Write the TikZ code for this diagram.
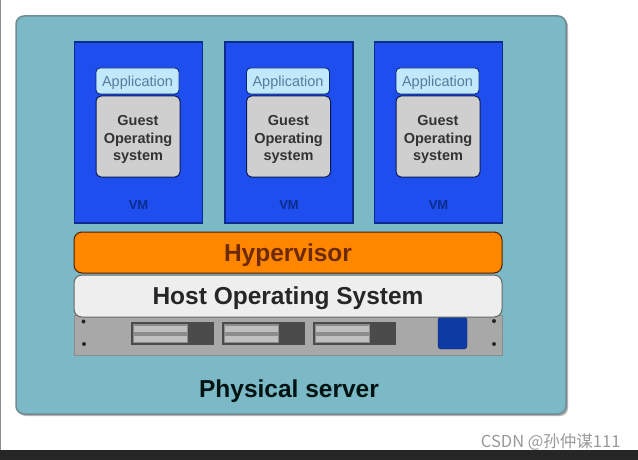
\documentclass[tikz,border=0pt]{standalone}
\usepackage{fontspec}
\setmainfont{Liberation Sans}
\newfontfamily\cjk{Noto Sans CJK SC}
\definecolor{panelteal}{HTML}{7AB9C5}
\definecolor{paneledge}{HTML}{6E8C93}
\definecolor{vmblue}{HTML}{1F4EEE}
\definecolor{vmedge}{HTML}{0B2C8C}
\definecolor{appcyan}{HTML}{C0E9FB}
\definecolor{apptext}{HTML}{5A7A9E}
\definecolor{guestgrey}{HTML}{CFCFCF}
\definecolor{hyporange}{HTML}{FF8700}
\definecolor{hyptext}{HTML}{6E2A05}
\definecolor{hostwhite}{HTML}{EEEEEE}
\definecolor{rackgrey}{HTML}{A8A8A8}
\definecolor{baydark}{HTML}{4B4B4B}
\definecolor{btnblue}{HTML}{0E3AA4}
\tikzset{
  vmbox/.style={draw=vmedge,line width=1.6pt,fill=vmblue,minimum width=128pt,minimum height=181pt,inner sep=0pt},
  appbox/.style={draw=vmedge!80!black,line width=0.8pt,fill=appcyan,rounded corners=4pt,
    minimum width=83pt,minimum height=26pt,inner sep=0pt,text depth=0pt,text=apptext,font=\fontsize{14.5}{14.5}\selectfont},
  guestbox/.style={draw=vmedge!60!black,line width=1pt,fill=guestgrey,rounded corners=5pt,
    minimum width=84pt,minimum height=81pt,inner sep=0pt},
  guesttext/.style={yshift=-3pt,align=center,text=black!80,font=\bfseries\fontsize{14.5}{17.5}\selectfont},
  layerbar/.style={rounded corners=8pt,minimum width=428pt,minimum height=41pt,inner sep=0pt,
    line width=1pt,text height=17.5pt,text depth=0pt,font=\bfseries\fontsize{24.5}{24.5}\selectfont},
  screw/.style={circle,fill=black!85,inner sep=0pt,minimum size=4pt}
}
\begin{document}
\begin{tikzpicture}[x=1pt,y=-1pt]
\useasboundingbox (0,0) rectangle (638,460);
\fill[white] (0,0) rectangle (638,460);
\fill[black!85] (0,450) rectangle (638,460);
\draw[black!45,line width=1.2pt] (0.6,0)--(0.6,450);
% server panel
\fill[black!30,rounded corners=8pt] (18,18) rectangle (568,416);
\node[draw=paneledge,line width=1.5pt,fill=panelteal,rounded corners=8pt,
  minimum width=550pt,minimum height=398pt,inner sep=0pt] (panel) at (291,215) {};
% virtual machines
\foreach \x/\name in {138.5/vmA,289/vmB,438.5/vmC}{
  \node[vmbox] (\name) at (\x,132.5) {};
  \node[appbox] (\name app) at (\x-1,81) {Application};
  \node[guestbox,label={[guesttext]center:Guest\\Operating\\system}] (\name os) at (\x-0.5,136.5) {};
  \node[text=vmedge,font=\bfseries\fontsize{13}{13}\selectfont] (\name lbl) at (\x,205) {VM};
}
% hardware
\node[draw=black!45,line width=0.8pt,fill=rackgrey,minimum width=428pt,minimum height=40pt,inner sep=0pt] (rack) at (288,335) {};
\foreach \x/\name in {131/bayA,222/bayB,313/bayC}{
  \node[fill=baydark,minimum width=83pt,minimum height=23pt,inner sep=0pt] (\name) at (\x+41.5,333.5) {};
  \fill[black!45] (\x+2,324) rectangle (\x+57,343);
  \fill[black!25] (\x+3,325.5) rectangle (\x+56,331.5);
  \fill[black!25] (\x+3,335.5) rectangle (\x+56,341.5);
}
\node[fill=btnblue,draw=btnblue!70!black,rounded corners=3pt,minimum width=29pt,minimum height=32pt,inner sep=0pt] (power) at (452.5,333) {};
\foreach \x/\y/\name in {83.5/321.5/scA,84/344/scB,494/321/scC,494/344/scD}
  \node[screw] (\name) at (\x,\y) {};
% layers
\node[layerbar,draw=hyptext!70!black,fill=hyporange,text=hyptext] (hyp) at (288,252.5) {Hypervisor};
\node[layerbar,draw=black!60,fill=hostwhite,text=black!85,minimum height=42pt] (host) at (288,296) {Host Operating System};
\node[text depth=0pt,font=\bfseries\fontsize{24.5}{24.5}\selectfont,text=black!85!teal] (phys) at (289,389) {Physical server};
\node[anchor=east,text=black!40,font=\cjk\fontsize{16.5}{16.5}\selectfont] (mark) at (624,442) {CSDN @孙仲谋111};
\end{tikzpicture}
\end{document}
